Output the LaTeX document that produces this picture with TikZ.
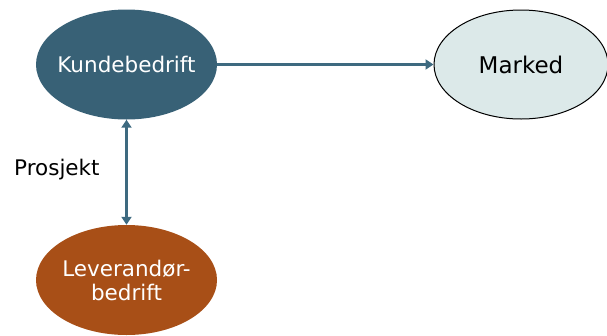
\documentclass[tikz,border=0pt]{standalone}
\usepackage{fontspec}
\setmainfont{DejaVu Sans}
\usetikzlibrary{arrows.meta,shapes.geometric}
\definecolor{kblue}{HTML}{386176}
\definecolor{kbrown}{HTML}{A84F17}
\definecolor{kmark}{HTML}{DCE9E9}
\definecolor{karrow}{HTML}{3E6A80}
\tikzset{
  blob/.style={ellipse, minimum width=181pt, minimum height=110pt, inner sep=0pt},
  blobtext/.style={align=center, inner sep=0pt, font=\fontsize{21.5}{24}\selectfont},
  conn/.style={draw=karrow, line width=2.8pt, -{Triangle[length=8pt,width=10pt]}},
  biconn/.style={draw=karrow, line width=2.8pt, {Triangle[length=8pt,width=10pt]}-{Triangle[length=8pt,width=10pt]}}
}
\begin{document}
\begin{tikzpicture}[x=1pt,y=-1pt]
\useasboundingbox (0,0) rectangle (607,335);
\node[blob, fill=kblue] (kunde) at (126.5,64.5) {};
\node[blobtext, text=white] (kundetxt) at (kunde.center) {Kundebedrift};
\node[blob, fill=kmark, draw=black, line width=1pt, minimum width=174pt, minimum height=109pt] (marked) at (521,64.5) {};
\node[blobtext, font=\fontsize{23}{26}\selectfont] (markedtxt) at (marked.center) {Marked};
\node[blob, fill=kbrown] (lev) at (126.5,280) {};
\node[blobtext, text=white] (levtxt) at (lev.center) {Leverandør-\\bedrift};
\node[font=\fontsize{21.5}{24}\selectfont, anchor=west, inner sep=0pt] (prosjekt) at (14,170) {Prosjekt};
\draw[conn] (kunde.east) -- (marked.west);
\draw[biconn] (kunde.south) -- (lev.north);
\end{tikzpicture}
\end{document}
